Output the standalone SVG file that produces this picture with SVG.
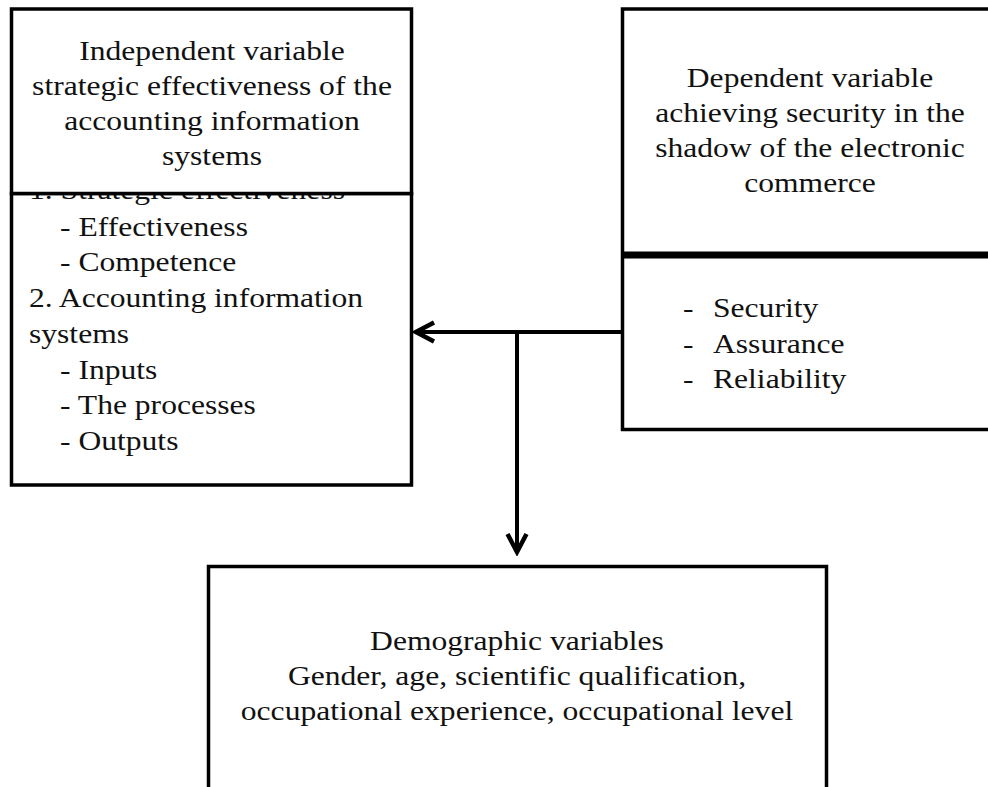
<svg xmlns="http://www.w3.org/2000/svg" width="988" height="787" viewBox="0 0 988 787">
<style>
  .box { fill: #ffffff; stroke: #000000; stroke-width: 3.5; }
  .t { font-family: "Liberation Serif", "Times New Roman", serif; font-size: 27px; fill: #111111; }
  .c { text-anchor: middle; }
  .conn { stroke: #000000; stroke-width: 4; fill: none; }
</style>
<defs>
  <marker id="chev" markerUnits="userSpaceOnUse" markerWidth="26" markerHeight="26" viewBox="0 0 26 26" refX="22" refY="13" orient="auto">
    <path d="M4,3.5 L22,13 L4,22.5" fill="none" stroke="#000000" stroke-width="4.5" stroke-linejoin="miter"/>
  </marker>
</defs>

<g id="independent-items">
  <rect class="box" x="11.5" y="193.5" width="400" height="291.5"/>
  <text class="t" transform="translate(29,199) scale(1.17,1)">1. Strategic effectiveness</text>
  <text class="t" transform="translate(60,235.7) scale(1.17,1)">- Effectiveness</text>
  <text class="t" transform="translate(60,271.4) scale(1.17,1)">- Competence</text>
  <text class="t" transform="translate(29,307.1) scale(1.17,1)">2. Accounting information</text>
  <text class="t" transform="translate(29,342.8) scale(1.17,1)">systems</text>
  <text class="t" transform="translate(60,378.5) scale(1.17,1)">- Inputs</text>
  <text class="t" transform="translate(60,414.2) scale(1.17,1)">- The processes</text>
  <text class="t" transform="translate(60,450) scale(1.17,1)">- Outputs</text>
</g>

<g id="independent-variable">
  <rect class="box" x="11.5" y="9" width="400" height="184.5"/>
  <text class="t c" transform="translate(212,60) scale(1.17,1)">Independent variable</text>
  <text class="t c" transform="translate(212,95) scale(1.17,1)">strategic effectiveness of the</text>
  <text class="t c" transform="translate(212,130) scale(1.17,1)">accounting information</text>
  <text class="t c" transform="translate(212,165) scale(1.17,1)">systems</text>
</g>

<g id="dependent-variable">
  <rect class="box" x="622.5" y="9" width="400" height="420.5"/>
  <line x1="622.5" y1="255" x2="1000" y2="255" stroke="#000000" stroke-width="7"/>
  <text class="t c" transform="translate(810,87) scale(1.17,1)">Dependent variable</text>
  <text class="t c" transform="translate(810,122) scale(1.17,1)">achieving security in the</text>
  <text class="t c" transform="translate(810,157) scale(1.17,1)">shadow of the electronic</text>
  <text class="t c" transform="translate(810,192) scale(1.17,1)">commerce</text>
  <text class="t" transform="translate(683,317) scale(1.17,1)">-</text>
  <text class="t" transform="translate(713,317) scale(1.17,1)">Security</text>
  <text class="t" transform="translate(683,353) scale(1.17,1)">-</text>
  <text class="t" transform="translate(713,353) scale(1.17,1)">Assurance</text>
  <text class="t" transform="translate(683,388) scale(1.17,1)">-</text>
  <text class="t" transform="translate(713,388) scale(1.17,1)">Reliability</text>
</g>

<g id="demographic-variables">
  <rect class="box" x="208.5" y="566.5" width="618" height="240"/>
  <text class="t c" transform="translate(517,650) scale(1.17,1)">Demographic variables</text>
  <text class="t c" transform="translate(517,685) scale(1.17,1)">Gender, age, scientific qualification,</text>
  <text class="t c" transform="translate(517,720) scale(1.17,1)">occupational experience, occupational level</text>
</g>

<g id="connectors">
  <line class="conn" x1="622" y1="332" x2="416" y2="332" marker-end="url(#chev)"/>
  <line class="conn" x1="517" y1="332" x2="517" y2="552" marker-end="url(#chev)"/>
</g>
</svg>
